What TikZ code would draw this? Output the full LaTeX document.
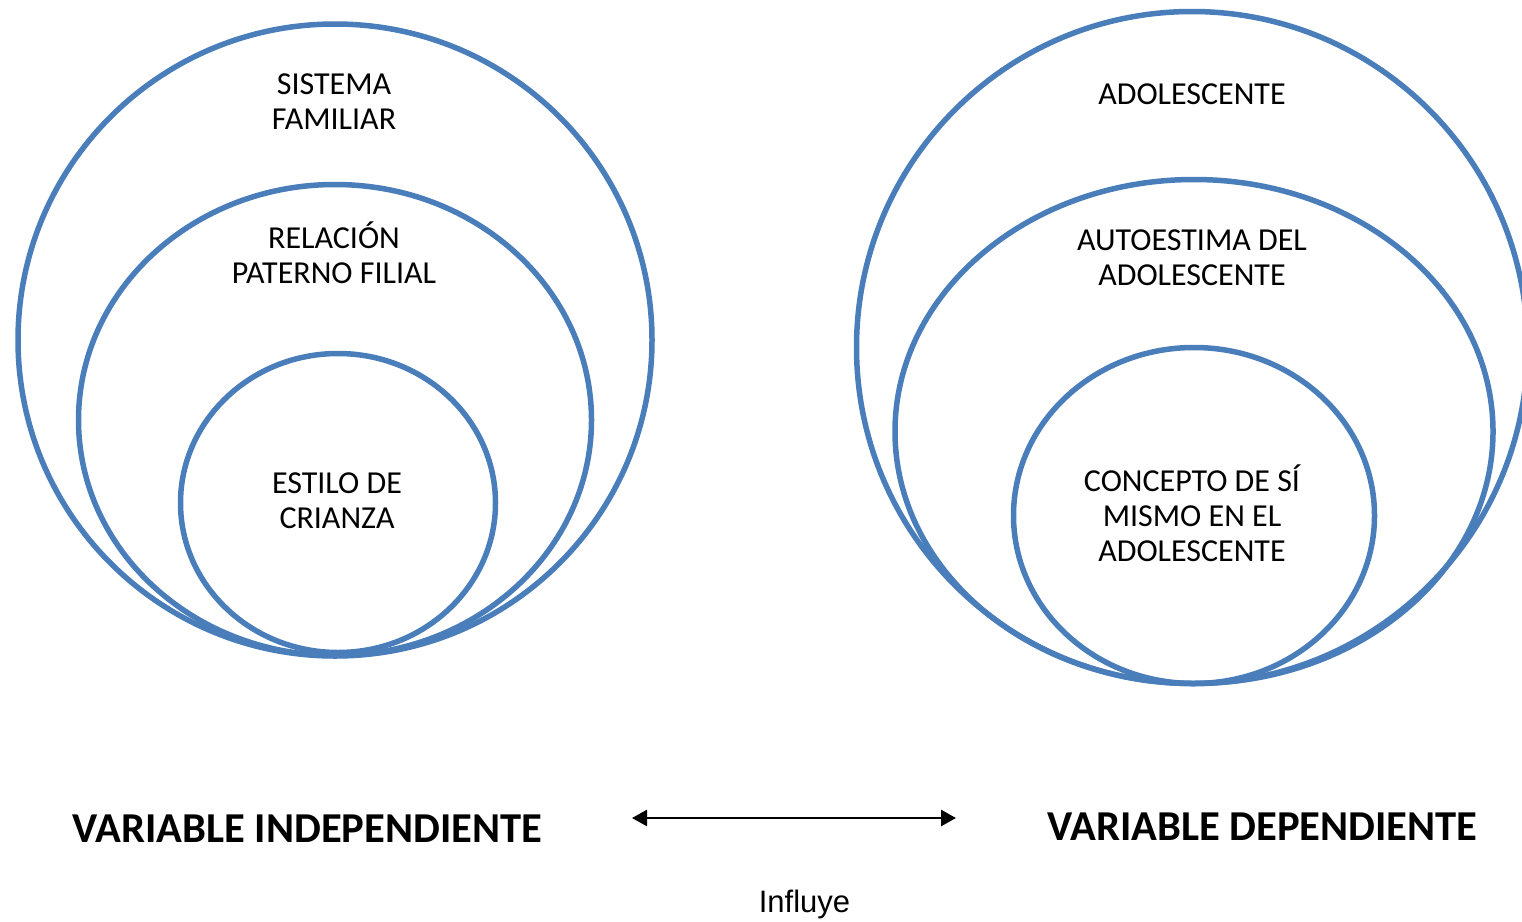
\documentclass[tikz,border=0pt]{standalone}
\usepackage{fontspec}
\setmainfont{Carlito}
\newfontfamily\arialfont{Liberation Sans}
\usetikzlibrary{shapes.geometric,arrows.meta}
\definecolor{ringblue}{RGB}{74,126,187}
\tikzset{
  ring/.style={ellipse, draw=ringblue, line width=5.5pt, inner sep=0pt, outer sep=0pt},
  ringtext/.style={anchor=base, align=center, inner sep=0pt, font=\fontsize{32}{35}\selectfont},
  varlabel/.style={anchor=base, inner sep=0pt, font=\fontsize{42.6}{48}\selectfont\bfseries},
  infl/.style={anchor=base, inner sep=0pt, font=\fontsize{31}{34}\selectfont\arialfont},
  linkarrow/.style={line width=2.7pt, {Triangle[length=15pt,width=16pt]}-{Triangle[length=15pt,width=16pt]}}
}
\begin{document}
\begin{tikzpicture}[x=1pt,y=-1pt]
\useasboundingbox (0,0) rectangle (1522,921);
% left rings
\node[ring, minimum width=634pt, minimum height=632pt] (Louter) at (335,340) {};
\node[ring, minimum width=513pt, minimum height=471pt] (Lmid) at (335,420) {};
\node[ring, minimum width=315pt, minimum height=299pt] (Linner) at (338,503) {};
% right rings
\node[ring, minimum width=671pt, minimum height=672pt] (Router) at (1192,347.5) {};
\node[ring, minimum width=598pt, minimum height=504pt] (Rmid) at (1194,431.5) {};
\node[ring, minimum width=361pt, minimum height=336pt] (Rinner) at (1194,515.5) {};
% ring texts (base = baseline of last line)
\node[ringtext] (t1) at (334,129) {SISTEMA\\FAMILIAR};
\node[ringtext] (t2) at (334,283) {RELACIÓN\\PATERNO FILIAL};
\node[ringtext] (t3) at (337,528) {ESTILO DE\\CRIANZA};
\node[ringtext] (t4) at (1192,104) {ADOLESCENTE};
\node[ringtext] (t5) at (1192,285) {AUTOESTIMA DEL\\ADOLESCENTE};
\node[ringtext] (t6) at (1192,561) {CONCEPTO DE SÍ\\MISMO EN EL\\ADOLESCENTE};
% labels
\node[varlabel] (vi) at (307.5,842) {VARIABLE INDEPENDIENTE};
\node[varlabel] (vd) at (1262.5,840) {VARIABLE DEPENDIENTE};
\node[infl] (inf) at (804.5,912) {Influye};
% arrow
\coordinate (aL) at (632,818);
\coordinate (aR) at (956,818);
\draw[linkarrow] (aL) -- (aR);
\end{tikzpicture}
\end{document}
